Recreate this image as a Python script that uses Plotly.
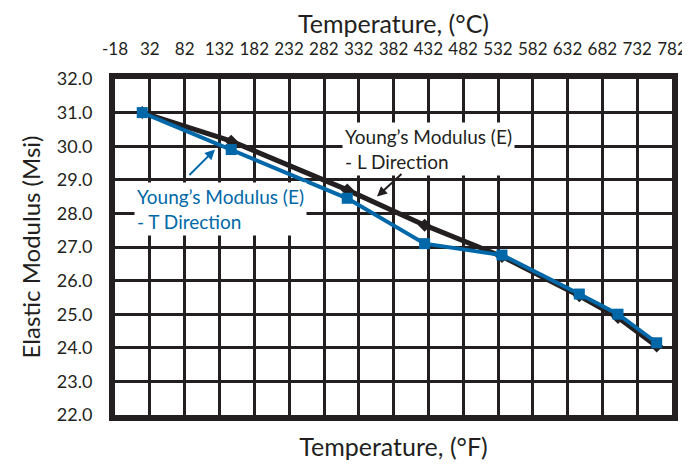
import plotly.graph_objects as go

# Temperature in degrees F (bottom axis), modulus in Msi
temp_f = [70, 300, 600, 800, 1000, 1200, 1300, 1400]
modulus_l = [31.0, 30.15, 28.7, 27.65, 26.72, 25.55, 24.9, 24.05]
modulus_t = [31.0, 29.9, 28.45, 27.1, 26.76, 25.6, 25.0, 24.15]

# top axis labels in degrees C (one per grid line)
celsius_labels = [-18, 32, 82, 132, 182, 232, 282, 332, 382, 432, 482, 532, 582, 632, 682, 732, 782]

INK = "#231f20"
BLUE = "#0068a8"
FONT = "Lato"

fig = go.Figure()

fig.add_trace(go.Scatter(
    x=temp_f, y=modulus_l, mode="lines+markers",
    line=dict(color=INK, width=5),
    marker=dict(symbol="diamond", size=10, color=INK),
    showlegend=False,
))
fig.add_trace(go.Scatter(
    x=temp_f, y=modulus_t, mode="lines+markers",
    line=dict(color=BLUE, width=4),
    marker=dict(symbol="square", size=11, color=BLUE),
    showlegend=False,
))
# invisible trace so the top (deg C) axis gets drawn
fig.add_trace(go.Scatter(
    x=[celsius_labels[0], celsius_labels[-1]], y=[22, 22], xaxis="x2",
    mode="markers", marker=dict(opacity=0), showlegend=False, hoverinfo="skip",
))

c_min, c_max = celsius_labels[0], celsius_labels[-1]
f_min, f_max = c_min * 9 / 5 + 32, c_max * 9 / 5 + 32

# the page body has an 8px default margin, so the figure is 8px smaller
fig.update_layout(
    width=682, height=458,
    margin=dict(l=107, r=18, t=71, b=51, autoexpand=False),
    plot_bgcolor="white", paper_bgcolor="white",
    font=dict(family=FONT, color=INK, size=18),
    xaxis=dict(
        range=[f_min, f_max], tick0=0, dtick=90, showticklabels=False,
        showgrid=True, gridcolor=INK, gridwidth=3, zeroline=False,
        showline=True, linecolor=INK, linewidth=6, mirror=True, automargin=False,
        title=dict(text="Temperature, (°F)", font=dict(size=25), standoff=20),
    ),
    xaxis2=dict(
        range=[c_min, c_max], overlaying="x", side="top",
        tickmode="array", tickvals=celsius_labels, ticktext=[str(c) for c in celsius_labels],
        showgrid=False, zeroline=False, ticklabelstandoff=20, automargin=False,
        tickfont=dict(size=17),
        title=dict(text="Temperature, (°C)", font=dict(size=25), standoff=11),
    ),
    yaxis=dict(
        range=[22, 32], dtick=1, tickformat=".1f",
        showgrid=True, gridcolor=INK, gridwidth=3, zeroline=False,
        showline=True, linecolor=INK, linewidth=6, mirror=True, automargin=False,
        ticklabelstandoff=13, tickfont=dict(size=18),
        title=dict(text="Elastic Modulus (Msi)", font=dict(size=24), standoff=11),
    ),
)

# callout labels
fig.add_annotation(
    x=586, y=29.93, xanchor="left", yanchor="middle", align="left",
    text="Young’s Modulus (E)<br>- L Direction", showarrow=False,
    font=dict(color=INK, size=19), bgcolor="white", borderpad=2,
)
fig.add_annotation(
    x=48, y=28.12, xanchor="left", yanchor="middle", align="left",
    text="Young’s Modulus (E)<br>- T Direction", showarrow=False,
    font=dict(color=BLUE, size=19), bgcolor="white", borderpad=2,
)
# arrows
fig.add_annotation(
    x=677, y=28.5, ax=26, ay=-24, text="", showarrow=True,
    arrowhead=2, arrowsize=1, arrowwidth=2, arrowcolor=INK,
)
fig.add_annotation(
    x=258, y=29.9, ax=-27, ay=27, text="", showarrow=True,
    arrowhead=2, arrowsize=1, arrowwidth=2, arrowcolor=BLUE,
)

fig.write_html("out.html")
